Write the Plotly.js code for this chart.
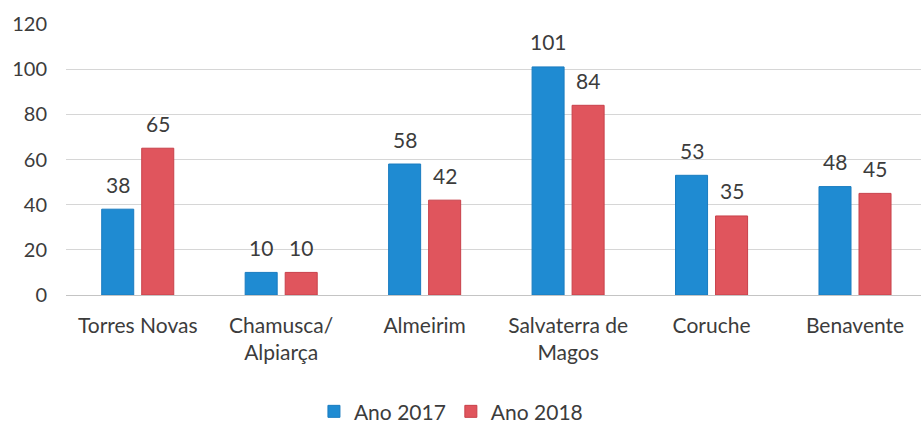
<!DOCTYPE html>
<html>
<head>
<meta charset="utf-8">
<script src="https://cdn.plot.ly/plotly-3.0.1.min.js"></script>
<style>html,body{margin:0;padding:0;background:#fff;}#chart{width:921px;height:423px;}</style>
</head>
<body>
<div id="chart"></div>
<script>
const categories = ["Torres Novas", "Chamusca/<br>Alpiarça", "Almeirim", "Salvaterra de<br>Magos", "Coruche", "Benavente"];
const values2017 = [38, 10, 58, 101, 53, 48];
const values2018 = [65, 10, 42, 84, 35, 45];
const seriesNames = ["Ano 2017", "Ano 2018"];
const yTicks = [0, 20, 40, 60, 80, 100, 120];

const FONT = "Lato, 'Liberation Sans', sans-serif";
const TXT = "#3c3c3c";

const traces = [
  {type: "bar", name: seriesNames[0], x: categories, y: values2017,
   marker: {color: "#1f8bd2", line: {color: "#1a7cc0", width: 1}}, hoverinfo: "none"},
  {type: "bar", name: seriesNames[1], x: categories, y: values2018,
   marker: {color: "#e0555d", line: {color: "#c8404a", width: 1}}, hoverinfo: "none"}
];

const annotations = [];
[values2017, values2018].forEach((vals, si) => {
  vals.forEach((v, i) => {
    annotations.push({x: categories[i], y: v, xref: "x", yref: "y", text: String(v),
      showarrow: false, xshift: si === 0 ? -20 : 20, yshift: 25, yanchor: "middle",
      font: {family: FONT, size: 21, color: TXT}});
  });
});

const layout = {
  width: 921, height: 423,
  margin: {l: 66, r: 0, t: 24, b: 128, autoexpand: false},
  paper_bgcolor: "#fff", plot_bgcolor: "#fff",
  font: {family: FONT, size: 21, color: TXT},
  barmode: "group", bargap: 0.442, bargroupgap: 0.2,
  xaxis: {type: "category", range: [-0.5, 5.46], showgrid: false, zeroline: false,
          showline: false, ticks: "", ticklabelstandoff: 16, automargin: false,
          tickfont: {family: FONT, size: 21, color: TXT}},
  yaxis: {range: [0, 120], tickvals: yTicks, ticktext: yTicks.map(String),
          showgrid: true, gridcolor: "#d6d6d6", gridwidth: 1, zeroline: true,
          zerolinecolor: "#c4c4c4", zerolinewidth: 1, showline: false, ticks: "",
          ticklabelstandoff: 18, automargin: false, tickfont: {family: FONT, size: 20, color: TXT}},
  showlegend: true,
  legend: {orientation: "h", x: 0.29, xanchor: "left", y: -0.355, yanchor: "top",
           font: {family: FONT, size: 21, color: TXT}, bgcolor: "rgba(0,0,0,0)"},
  annotations: annotations
};

Plotly.newPlot("chart", traces, layout, {staticPlot: true, displayModeBar: false});
</script>
</body>
</html>
